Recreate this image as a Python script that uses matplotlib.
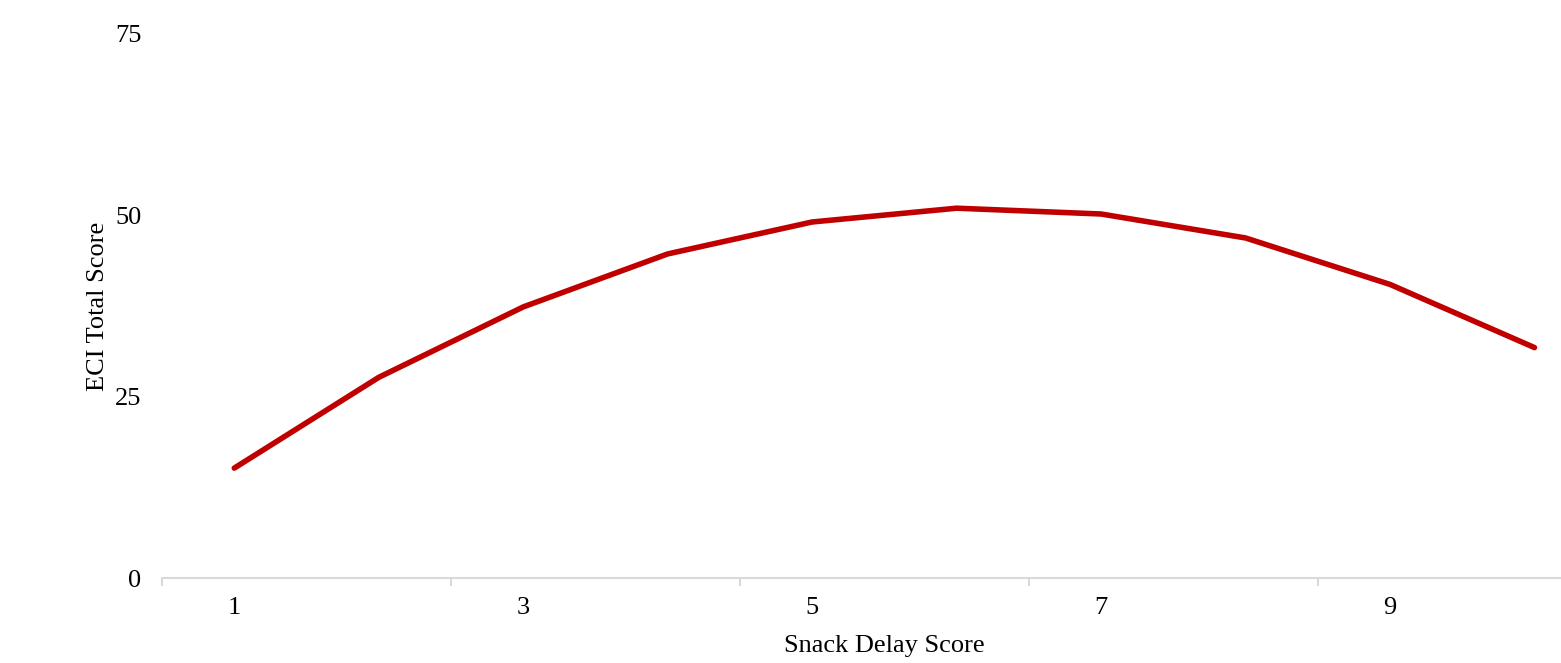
import numpy as np
import matplotlib.pyplot as plt

# Snack delay score vs ECI total score
snack_delay = [1, 2, 3, 4, 5, 6, 7, 8, 9, 10]
eci_total = [15.2, 27.7, 37.4, 44.7, 49.1, 51.0, 50.2, 46.9, 40.5, 31.8]
x_labels = ['1', '3', '5', '7', '9']
y_ticks = [0, 25, 50, 75]

plt.rcParams['font.family'] = ['Liberation Serif', 'DejaVu Serif']

fig = plt.figure(figsize=(15.61, 6.63), dpi=100)
ax = fig.add_axes([0.1038, 0.1275, 0.9255, 0.8213])

ax.plot(snack_delay, eci_total, color='#c00000', linewidth=4, solid_capstyle='round')

ax.set_xlim(0.5, 10.5)
ax.set_ylim(0, 75)

ax.set_xticks([1, 3, 5, 7, 9])
ax.set_xticklabels(x_labels)
ax.set_xticks([0.5, 2.5, 4.5, 6.5, 8.5], minor=True)
ax.tick_params(axis='x', which='major', length=0, pad=13, labelsize=19)
ax.tick_params(axis='x', which='minor', length=6, width=1.5, color='#d9d9d9')
ax.set_yticks(y_ticks)
ax.tick_params(axis='y', length=0, pad=15, labelsize=19)

for side in ['top', 'right', 'left']:
    ax.spines[side].set_visible(False)
ax.spines['bottom'].set_color('#d9d9d9')
ax.spines['bottom'].set_linewidth(1.5)

ax.set_xlabel('Snack Delay Score', fontsize=19, labelpad=12)
ax.set_ylabel('ECI Total Score', fontsize=19, labelpad=4)

fig.savefig('out.png', dpi=100)
